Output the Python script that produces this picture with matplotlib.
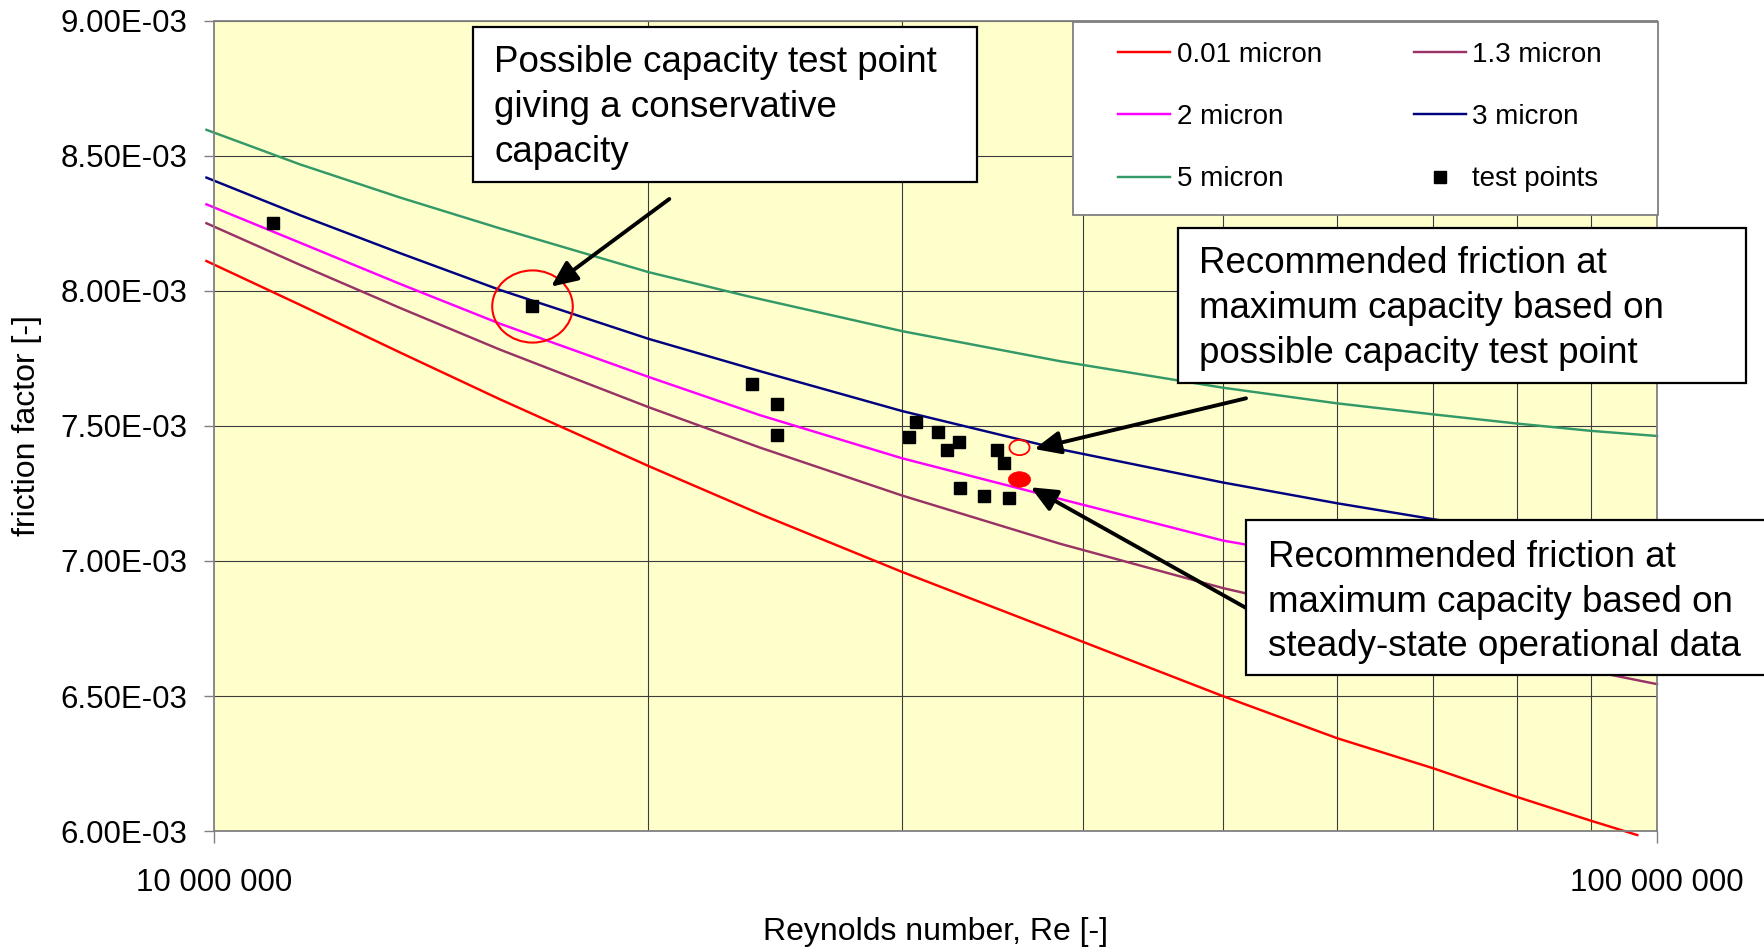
import matplotlib
matplotlib.use("Agg")
import matplotlib.pyplot as plt
import matplotlib.transforms as mtransforms
from matplotlib.path import Path
from matplotlib.patches import Rectangle, FancyArrowPatch
from matplotlib.ticker import FixedLocator, NullFormatter

plt.rcParams['font.family'] = ['Liberation Sans', 'DejaVu Sans']

# ---------------------------------------------------------------------------
# Friction factor vs Reynolds number for several wall roughness values
# ---------------------------------------------------------------------------
re_001 = [9.88e6, 1.147e7, 1.346e7, 1.578e7, 2.0e7, 2.39e7, 3.0e7, 3.92e7,
          5.0e7, 6.0e7, 7.0e7, 8.0e7, 9.0e7, 9.69e7]
f_001 = [8.111e-3, 7.949e-3, 7.772e-3, 7.599e-3, 7.352e-3, 7.174e-3, 6.959e-3,
         6.719e-3, 6.500e-3, 6.344e-3, 6.232e-3, 6.126e-3, 6.038e-3, 5.985e-3]

re_13 = [9.88e6, 1.147e7, 1.346e7, 1.578e7, 2.0e7, 2.39e7, 3.0e7, 3.857e7,
         5.0e7, 5.2e7, 9.255e7, 1.0e8]
f_13 = [8.251e-3, 8.097e-3, 7.937e-3, 7.783e-3, 7.570e-3, 7.420e-3, 7.242e-3,
        7.064e-3, 6.900e-3, 6.879e-3, 6.580e-3, 6.544e-3]

re_2 = [9.88e6, 1.147e7, 1.346e7, 1.578e7, 2.0e7, 2.39e7, 3.0e7, 3.857e7,
        5.0e7, 5.2e7, 1.0e8]
f_2 = [8.321e-3, 8.179e-3, 8.026e-3, 7.879e-3, 7.682e-3, 7.540e-3, 7.380e-3,
       7.230e-3, 7.076e-3, 7.060e-3, 6.850e-3]

re_3 = [9.88e6, 1.147e7, 1.346e7, 1.578e7, 2.0e7, 2.39e7, 3.0e7, 3.857e7,
        5.0e7, 6.0e7, 6.94e7, 1.0e8]
f_3 = [8.420e-3, 8.281e-3, 8.140e-3, 8.004e-3, 7.823e-3, 7.703e-3, 7.555e-3,
       7.414e-3, 7.291e-3, 7.214e-3, 7.158e-3, 7.020e-3]

re_5 = [9.88e6, 1.147e7, 1.346e7, 1.578e7, 2.0e7, 2.346e7, 3.0e7, 3.857e7,
        5.0e7, 6.0e7, 7.0e7, 8.0e7, 9.0e7, 1.0e8]
f_5 = [8.597e-3, 8.469e-3, 8.346e-3, 8.232e-3, 8.070e-3, 7.980e-3, 7.851e-3,
       7.740e-3, 7.642e-3, 7.584e-3, 7.543e-3, 7.509e-3, 7.482e-3, 7.463e-3]

# Measured test points
test_re = [1.098e7, 1.661e7, 2.359e7, 2.457e7, 2.457e7, 3.066e7, 3.033e7,
           3.177e7, 3.285e7, 3.220e7, 3.490e7, 3.528e7, 3.289e7, 3.419e7,
           3.553e7]
test_f = [8.253e-3, 7.945e-3, 7.654e-3, 7.580e-3, 7.466e-3, 7.515e-3, 7.460e-3,
          7.476e-3, 7.441e-3, 7.410e-3, 7.410e-3, 7.362e-3, 7.271e-3, 7.239e-3,
          7.232e-3]
capacity_point = 1  # index of the possible capacity test point

# Recommended friction at maximum capacity
rec_re = 3.615e7
rec_f_capacity = 7.423e-3
rec_f_steady = 7.302e-3

series_labels = ['0.01 micron', '1.3 micron', '2 micron', '3 micron', '5 micron']

y_ticks = [6.0e-3, 6.5e-3, 7.0e-3, 7.5e-3, 8.0e-3, 8.5e-3, 9.0e-3]
y_tick_labels = ['6.00E-03', '6.50E-03', '7.00E-03', '7.50E-03', '8.00E-03',
                 '8.50E-03', '9.00E-03']
x_ticks = [1e7, 1e8]
x_tick_labels = ['10 000 000', '100 000 000']
x_minor = [2e7, 3e7, 4e7, 5e7, 6e7, 7e7, 8e7, 9e7]

note_capacity = ['Possible capacity test point', 'giving a conservative',
                 'capacity']
note_rec_capacity = ['Recommended friction at', 'maximum capacity based on',
                     'possible capacity test point']
note_rec_steady = ['Recommended friction at', 'maximum capacity based on',
                   'steady-state operational data']

# ---------------------------------------------------------------------------
W, H, DPI = 1764, 947, 100
fig = plt.figure(figsize=(W / DPI, H / DPI), dpi=DPI)
fig.patch.set_facecolor('white')

# pixel coordinates measured from the top-left corner of the figure
px = mtransforms.Affine2D().scale(1.0 / W, -1.0 / H).translate(0, 1) + fig.transFigure

ax_l, ax_r, ax_t, ax_b = 214, 1657, 21, 831
ax = fig.add_axes([ax_l / W, 1 - ax_b / H, (ax_r - ax_l) / W, (ax_b - ax_t) / H])
ax.set_facecolor('#FFFFCC')
ax.set_xscale('log')
ax.set_xlim(1e7, 1e8)
ax.set_ylim(6.0e-3, 9.0e-3)

ax.set_yticks(y_ticks)
ax.set_yticklabels(y_tick_labels)
ax.set_xticks(x_ticks)
ax.set_xticklabels(x_tick_labels)
ax.xaxis.set_minor_locator(FixedLocator(x_minor))
ax.xaxis.set_minor_formatter(NullFormatter())
ax.yaxis.set_minor_locator(FixedLocator([]))

ax.grid(True, which='major', axis='y', color='#3c3c3c', lw=0.8)
ax.grid(True, which='minor', axis='x', color='#3c3c3c', lw=0.8)
ax.set_axisbelow(True)
ax.tick_params(axis='x', which='minor', length=0)
ax.tick_params(axis='x', which='major', direction='out', length=8.5, width=1.0,
               color='#808080', pad=18, labelsize=22.5)
ax.tick_params(axis='y', which='major', direction='out', length=7, width=1.0,
               color='#808080', pad=12, labelsize=22.5)
for s in ax.spines.values():
    s.set_color('#808080')
    s.set_linewidth(1.3)

ax.set_xlabel('Reynolds number, Re [-]', fontsize=23)
ax.xaxis.set_label_coords(0.5, (ax_b - 932) / (ax_b - ax_t))
ax.xaxis.label.set_va('center')
ax.set_ylabel('friction factor [-]', fontsize=23)
ax.yaxis.set_label_coords((27 - ax_l) / (ax_r - ax_l), 0.5)
ax.yaxis.label.set_va('center')
ax.yaxis.label.set_ha('center')

# curves
curve_style = dict(lw=1.75, clip_on=False, zorder=2, solid_joinstyle='round')
h_001, = ax.plot(re_001, f_001, color='#FF0000', label=series_labels[0], **curve_style)
h_13, = ax.plot(re_13, f_13, color='#993366', label=series_labels[1], **curve_style)
h_2, = ax.plot(re_2, f_2, color='#FF00FF', label=series_labels[2], **curve_style)
h_3, = ax.plot(re_3, f_3, color='#000080', label=series_labels[3], **curve_style)
h_5, = ax.plot(re_5, f_5, color='#339966', label=series_labels[4], **curve_style)

# test points
h_test, = ax.plot(test_re, test_f, ls='none', marker='s', ms=9, color='black',
                  label='test points', zorder=4)


def ellipse_marker(ratio):
    circ = Path.unit_circle()
    return Path(circ.vertices * [1.0, ratio], circ.codes)


# ring around the possible capacity test point
ax.plot([test_re[capacity_point]], [test_f[capacity_point]], ls='none',
        marker=ellipse_marker(0.896), ms=58, mfc='none', mec='#FF0000', mew=1.5,
        zorder=4)
# recommended values
ax.plot([rec_re], [rec_f_capacity], ls='none', marker=ellipse_marker(0.76),
        ms=14.5, mfc='none', mec='#FF0000', mew=1.3, zorder=4)
ax.plot([rec_re], [rec_f_steady], ls='none', marker=ellipse_marker(0.70),
        ms=16, mfc='#FF0000', mec='#FF0000', mew=0.5, zorder=4)

# legend with its own white panel
fig.add_artist(Rectangle((1073, 22), 585, 193, transform=px, facecolor='white',
                         edgecolor='#808080', lw=1.3, zorder=4.9))
leg = fig.legend([h_001, h_2, h_5, h_13, h_3, h_test],
                 ['0.01 micron', '2 micron', '5 micron', '1.3 micron', '3 micron',
                  'test points'],
                 ncol=2, loc='upper left',
                 bbox_to_anchor=(1118.4 / W, 1 - 41.5 / H),
                 bbox_transform=fig.transFigure, frameon=False, fontsize=20,
                 handlelength=1.87, handletextpad=0.24, columnspacing=3.3,
                 labelspacing=1.31, borderpad=0, borderaxespad=0)
leg.set_zorder(5)


# callout boxes
def callout(x0, y0, x1, y1, text_x, baselines, lines):
    fig.add_artist(Rectangle((x0, y0), x1 - x0, y1 - y0, transform=px,
                             facecolor='white', edgecolor='black', lw=1.6,
                             zorder=6))
    for yb, line in zip(baselines, lines):
        fig.text(text_x, yb, line, transform=px, fontsize=26.5, va='baseline',
                 ha='left', color='black', zorder=7)


callout(473, 27, 977, 182, 494.5, [71.7, 116.7, 162.0], note_capacity)
callout(1178, 228, 1746, 383, 1199, [273.3, 318.3, 363.3], note_rec_capacity)
callout(1246, 520, 1775, 675, 1267.5, [566.7, 611.7, 655.5], note_rec_steady)

# arrows from the callouts
arrow_style = '-|>,head_length=0.95,head_width=0.42'
for tail, tip in [((669.3, 199.0), (551.0, 286.7)),
                  ((1246.0, 398.3), (1034.3, 449.0)),
                  ((1246.7, 608.3), (1030.7, 487.3))]:
    fig.add_artist(FancyArrowPatch(tail, tip, transform=px, arrowstyle=arrow_style,
                                   mutation_scale=16.7, lw=2.8, color='black',
                                   shrinkA=0, shrinkB=0, zorder=5.5))

fig.savefig('out.png', dpi=DPI, facecolor='white')
